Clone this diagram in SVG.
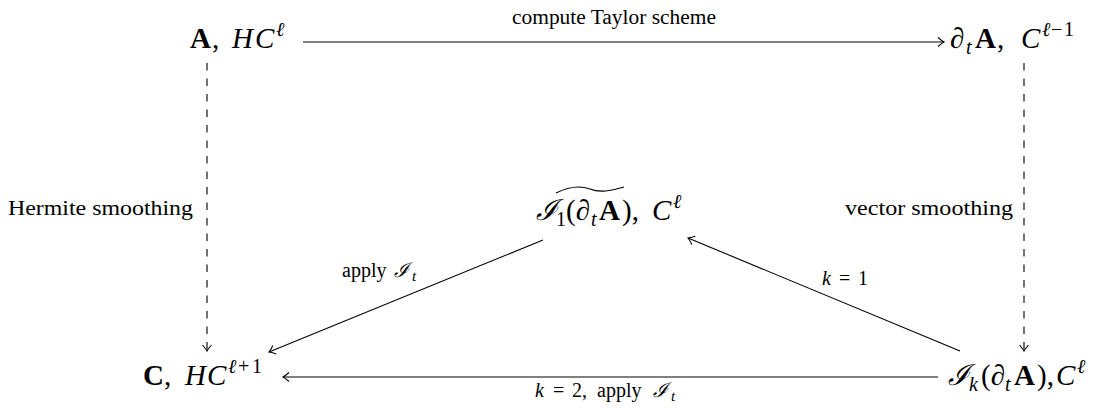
<svg xmlns="http://www.w3.org/2000/svg" width="1101" height="409" viewBox="0 0 1101 409">
<style>
.t{font-family:"Liberation Serif","DejaVu Serif",serif;fill:#000}
.lab{font-size:20px}
.m{font-size:29px}
.i{font-style:italic}
.b{font-weight:bold}
.s{font-size:20px}
.ls{font-size:15px}
.e{stroke:#000;stroke-width:1.1;fill:none}
.d{stroke-dasharray:7.5,8}
</style>
<defs>
<marker id="ah" markerUnits="userSpaceOnUse" markerWidth="14" markerHeight="14" refX="0" refY="0" viewBox="-8 -7 10 14" orient="auto">
<path d="M-6,-4.5 Q-2,-1 0,0 Q-2,1 -6,4.5" stroke="#000" stroke-width="1.1" fill="none"/>
</marker>
</defs>
<rect width="1101" height="409" fill="#fff"/>
<g id="connectors">
<line class="e" x1="303" y1="42" x2="944" y2="42" marker-end="url(#ah)"/>
<line class="e d" x1="207" y1="63" x2="207" y2="351" marker-end="url(#ah)"/>
<line class="e d" x1="1024" y1="63" x2="1024" y2="351" marker-end="url(#ah)"/>
<line class="e" x1="938" y1="377" x2="283" y2="377" marker-end="url(#ah)"/>
<line class="e" x1="543" y1="240" x2="269" y2="352" marker-end="url(#ah)"/>
<line class="e" x1="960" y1="351" x2="688" y2="238" marker-end="url(#ah)"/>
<text class="t lab" x="512" y="24" textLength="204" lengthAdjust="spacingAndGlyphs">compute Taylor scheme</text>
<text class="t lab" x="8" y="215" textLength="185" lengthAdjust="spacingAndGlyphs">Hermite smoothing</text>
<text class="t lab" x="845" y="215" textLength="168" lengthAdjust="spacingAndGlyphs">vector smoothing</text>
<text class="t lab" y="277"><tspan x="342">apply</tspan><tspan class="i" x="394">ℐ</tspan><tspan class="i ls" x="412" y="281">t</tspan></text>
<text class="t lab" y="285"><tspan class="i" x="822">k</tspan><tspan x="839">=</tspan><tspan x="858">1</tspan></text>
<text class="t lab" y="397"><tspan class="i" x="535">k</tspan><tspan x="553">=</tspan><tspan x="572">2,</tspan><tspan x="597">apply</tspan><tspan class="i" x="653">ℐ</tspan><tspan class="i ls" x="671" y="401">t</tspan></text>
</g>
<g id="node-A">
<text class="t m" y="48"><tspan class="b" x="190">A</tspan><tspan x="212">,</tspan><tspan class="i" x="232">H</tspan><tspan class="i" x="255">C</tspan><tspan class="i s" x="276" y="36">ℓ</tspan></text>
</g>
<g id="node-dtA">
<text class="t m" y="48"><tspan x="950">∂</tspan><tspan class="i s" x="966" y="54">t</tspan><tspan class="b" x="975" y="48">A</tspan><tspan x="997">,</tspan><tspan class="i" x="1021">C</tspan><tspan class="i s" x="1042" y="36">ℓ</tspan><tspan class="s" x="1051">−</tspan><tspan class="s" x="1064">1</tspan></text>
</g>
<g id="node-I1">
<path d="M556,193 C570,186 582,186 590,189 C600,193 610,191 624,187" stroke="#000" stroke-width="1.1" fill="none"/>
<text class="t m" y="220"><tspan class="i" x="536">ℐ</tspan><tspan class="s" x="556" y="226">1</tspan><tspan x="566" y="220">(∂</tspan><tspan class="i s" x="591" y="226">t</tspan><tspan class="b" x="599" y="220">A</tspan><tspan x="622">),</tspan><tspan class="i" x="652">C</tspan><tspan class="i s" x="673" y="208">ℓ</tspan></text>
</g>
<g id="node-C">
<text class="t m" y="385"><tspan class="b" x="143">C</tspan><tspan x="164">,</tspan><tspan class="i" x="185">H</tspan><tspan class="i" x="207">C</tspan><tspan class="i s" x="228" y="373">ℓ</tspan><tspan class="s" x="238">+</tspan><tspan class="s" x="252">1</tspan></text>
</g>
<g id="node-Ik">
<text class="t m" y="385"><tspan class="i" x="948">ℐ</tspan><tspan class="i s" x="969" y="391">k</tspan><tspan x="981" y="385">(∂</tspan><tspan class="i s" x="1005" y="391">t</tspan><tspan class="b" x="1014" y="385">A</tspan><tspan x="1037">),</tspan><tspan class="i" x="1056">C</tspan><tspan class="i s" x="1077" y="373">ℓ</tspan></text>
</g>
</svg>
